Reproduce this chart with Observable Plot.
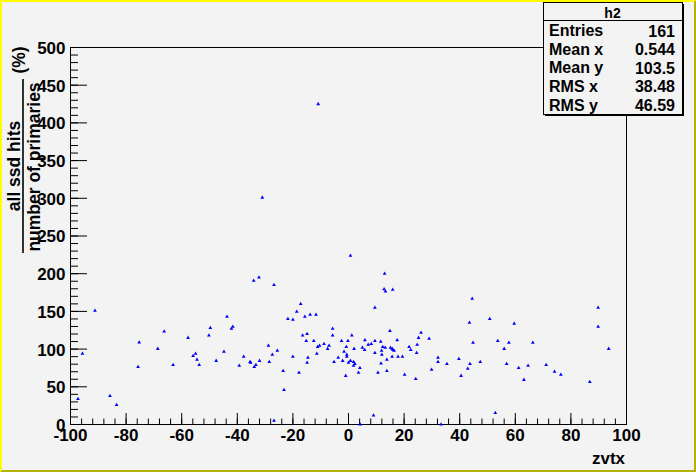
<!DOCTYPE html>
<html>
<head>
<meta charset="utf-8">
<script src="https://cdn.jsdelivr.net/npm/d3@7"></script>
<script src="https://cdn.jsdelivr.net/npm/@observablehq/plot@0.6"></script>
<style>
html, body { margin: 0; padding: 0; background: #f3f3f3; }
svg { display: block; }
</style>
</head>
<body>
<div id="chart"></div>
<script>
// ---- data ----
const zvtx = [-97.3,-95.7,-91.2,-85.8,-83.4,-75.7,-75.3,-68.6,-66.3,-63.1,
  -57.7,-55.9,-55.0,-54.5,-53.7,-50.2,-49.7,-47.6,-44.8,-43.7,
  -42.1,-41.6,-39.3,-37.7,-35.4,-35.2,-34.1,-33.9,-33.3,-32.2,
  -32.0,-31.0,-28.8,-28.5,-27.4,-26.8,-26.8,-25.6,-23.5,-23.2,
  -21.8,-20.0,-20.0,-18.6,-17.8,-17.2,-16.5,-15.7,-15.2,-14.9,
  -14.9,-14.6,-13.8,-12.5,-11.7,-11.4,-11.1,-10.9,-10.4,-8.8,
  -7.5,-7.0,-5.7,-5.7,-5.2,-3.7,-2.5,-2.1,-1.6,-1.0,
  -0.8,-0.6,-0.6,-0.2,0.0,0.7,0.7,1.2,1.8,2.0,
  1.8,2.3,3.6,4.1,4.2,5.0,5.8,5.9,7.1,8.2,
  9.0,9.5,9.5,9.5,10.6,11.6,11.7,11.9,12.0,12.3,
  12.8,13.0,13.3,13.2,13.8,13.8,14.9,15.1,15.7,15.7,
  15.9,16.0,16.4,17.5,17.8,19.4,20.2,21.8,22.4,24.2,
  24.5,24.7,25.2,26.1,29.0,29.9,32.2,32.2,33.3,35.4,
  39.7,40.5,42.9,43.5,43.7,44.5,44.8,47.4,50.8,52.8,
  53.7,56.0,56.9,57.7,59.6,61.2,63.1,64.6,66.3,71.1,
  74.1,76.4,86.8,89.8,89.8,93.6];
const ratio = [34,93.8,151,38,26,76.5,109,100.4,123.5,79,
  115,91,94,86,79,118,128,84.5,96.5,143,
  127,129.6,78,90,83,82,190.7,76.5,79,195,
  84.5,301,104.4,83,92.5,185,5,97.8,71,46,
  140,139,90,149.6,68.6,160,118,143,111,120,
  82,88.5,145.6,111,145.6,94,103,425,104.4,107,
  100.4,104.4,127,118,83,88.5,111,84.5,96.5,64.6,
  103,92.5,90,111,82,224,84.5,118,83,100.4,
  78,80.5,68.6,75,0,102,99,112,105.8,107,
  12,155,111,95,68.6,110,81,97.8,92.5,103,
  179.6,200,176.5,102,71,86,124,102,100.4,90,
  178.8,99,97.8,112,90,90,66,103,99,60.6,
  95,105.8,115,121.7,113.7,72.6,88.5,83,0,80.5,
  87,64.6,74,135,80.5,167,108.4,83,140,15.5,
  111,100.4,80.5,108.4,133.6,75,59.3,78,108.4,79,
  70,66,56.6,155,129.6,100.4];

const xTicks = [-100,-80,-60,-40,-20,0,20,40,60,80,100];
const yTicks = [0,50,100,150,200,250,300,350,400,450,500];
const xMinorStep = 4;
const yMinorStep = 10;

const statsTitle = "h2";
const statsNames = ["Entries","Mean x","Mean y","RMS x","RMS y"];
const statsValues = ["161","0.544","103.5","38.48","46.59"];

const xTitle = "zvtx";
const yTitleNum = "all ssd hits";
const yTitleDen = "number of primaries";
const yTitleUnit = "(%)";

// ---- layout ----
const W = 696, H = 472;
const mL = 70, mR = 70, mT = 47, mB = 48;
const fw = W - mL - mR, fh = H - mT - mB;
const FONT = "'Liberation Sans', Arial, Helvetica, sans-serif";

const data = zvtx.map((x, i) => ({x, y: ratio[i]}));
const xMinor = d3.range(-100, 100.001, xMinorStep);
const yMinor = d3.range(0, 500.001, yMinorStep);

const chart = Plot.plot({
  width: W, height: H,
  marginLeft: mL, marginRight: mR, marginTop: mT, marginBottom: mB,
  style: {background: "#f3f3f3", fontFamily: FONT, fontSize: "17px", fontWeight: "bold", color: "black", overflow: "visible"},
  x: {domain: [-100, 100], label: null},
  y: {domain: [0, 500], label: null},
  marks: [
    Plot.tickX(xMinor, {x: d => d, insetTop: fh - 5.5, stroke: "black", strokeWidth: 1}),
    Plot.tickX(xTicks, {x: d => d, insetTop: fh - 11, stroke: "black", strokeWidth: 1}),
    Plot.tickY(yMinor, {y: d => d, insetRight: fw - 8, stroke: "black", strokeWidth: 1}),
    Plot.tickY(yTicks, {y: d => d, insetRight: fw - 17, stroke: "black", strokeWidth: 1}),
    Plot.axisX({ticks: xTicks, tickSize: 0, tickPadding: 4, tickFormat: d => String(d), label: null, fontSize: 17, fontWeight: "bold"}),
    Plot.axisY({ticks: yTicks, tickSize: 0, tickPadding: 5, tickFormat: d => String(d), label: null, fontSize: 17, fontWeight: "bold", dy: 1}),
    Plot.frame({stroke: "black", strokeWidth: 1}),
    Plot.dot(data, {x: "x", y: "y", symbol: "triangle", r: 1.4, fill: "#0000ff", stroke: "none"})
  ]
});

const svg = d3.select(chart);

// axis titles
svg.append("text").attr("x", 625).attr("y", 464).attr("text-anchor", "end")
  .attr("font-family", FONT).attr("font-weight", "bold").attr("font-size", 17).attr("fill", "black").text(xTitle);

const yt = svg.append("g").attr("font-family", FONT).attr("font-weight", "bold").attr("font-size", 17.5).attr("fill", "black");
yt.append("text").attr("transform", "translate(20,166) rotate(-90)").attr("text-anchor", "middle").text(yTitleNum);
yt.append("text").attr("transform", "translate(40,167) rotate(-90)").attr("text-anchor", "middle").text(yTitleDen);
yt.append("text").attr("transform", "translate(24.5,60) rotate(-90)").attr("text-anchor", "middle").text(yTitleUnit);
yt.append("line").attr("x1", 23).attr("x2", 23).attr("y1", 79).attr("y2", 253).attr("stroke", "black").attr("stroke-width", 1.6);

// stats box
const bx = 543, by = 2, bw = 139, bh = 112;
svg.append("path").attr("d", `M${bx+2},${by+bh+1}H${bx+bw+1}V${by+2}`).attr("fill", "none").attr("stroke", "black").attr("stroke-width", 2);
svg.append("rect").attr("x", bx + 0.5).attr("y", by + 0.5).attr("width", bw).attr("height", bh)
  .attr("fill", "#f3f3f3").attr("stroke", "black").attr("stroke-width", 1);
svg.append("line").attr("x1", bx).attr("x2", bx + bw).attr("y1", 20.5).attr("y2", 20.5).attr("stroke", "black");
const sg = svg.append("g").attr("font-family", FONT).attr("font-weight", "bold").attr("fill", "black");
sg.append("text").attr("x", bx + bw / 2).attr("y", 18.3).attr("text-anchor", "middle").attr("font-size", 14).text(statsTitle);
const rowBase = [36.5, 55.2, 73.8, 92.4, 111];
statsNames.forEach((n, i) => {
  sg.append("text").attr("x", 549).attr("y", rowBase[i] - 0.5).attr("text-anchor", "start").attr("font-size", 16).text(n);
  sg.append("text").attr("x", 675).attr("y", rowBase[i]).attr("text-anchor", "end").attr("font-size", 16).text(statsValues[i]);
});

// canvas border (ROOT bevel)
svg.append("path").attr("d", `M0,0H${W}L${W-2},2H2V${H-2}L0,${H}Z`).attr("fill", "#ffff00");
svg.append("path").attr("d", `M${W},0V${H}H0L2,${H-2}H${W-2}V2Z`).attr("fill", "#b4b400");

document.getElementById("chart").appendChild(chart);
</script>
</body>
</html>
